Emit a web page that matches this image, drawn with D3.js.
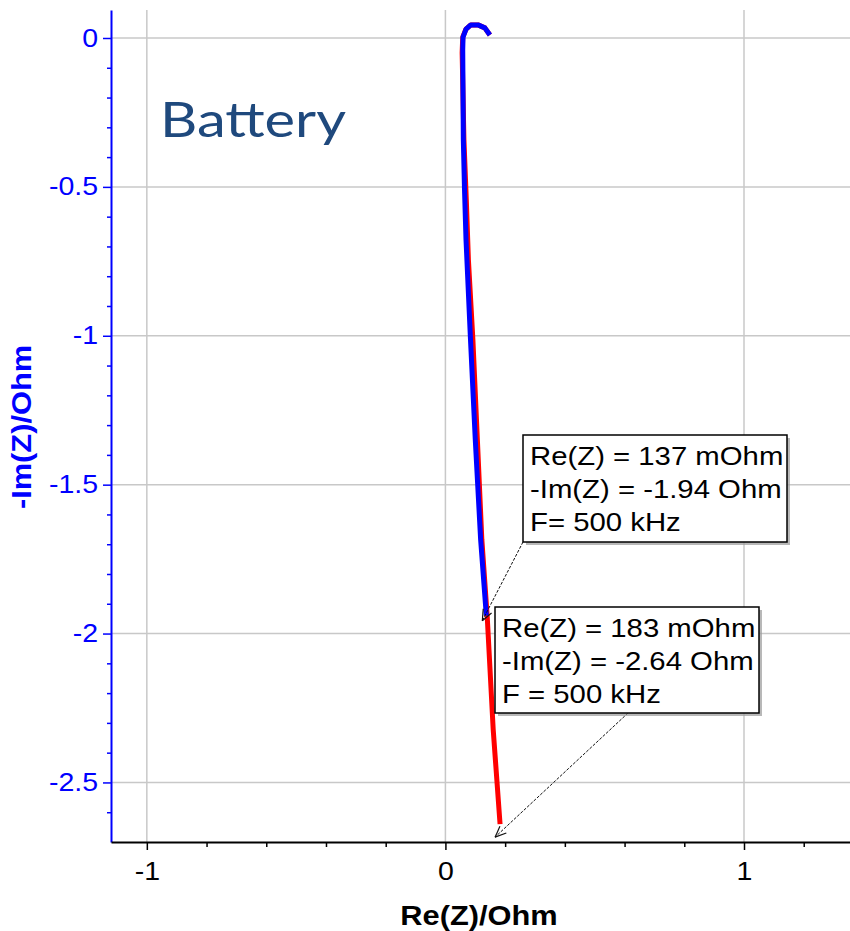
<!DOCTYPE html>
<html>
<head>
<meta charset="utf-8">
<script src="https://cdn.jsdelivr.net/npm/d3@7"></script>
<style>
  body { margin: 0; background: #fff; }
</style>
</head>
<body>
<script>
'use strict';

// ---- data ----
// blue trace (measured up to 500 kHz point)
const blueRe = [0.149, 0.132, 0.109, 0.085, 0.069, 0.059, 0.058, 0.060, 0.064, 0.069, 0.084, 0.100, 0.118, 0.137];
const blueIm = [0.010, 0.034, 0.044, 0.044, 0.030, 0.003, -0.040, -0.342, -0.510, -0.678, -1.013, -1.349, -1.685, -1.94];
// red trace (goes further down)
const redRe = [0.149, 0.132, 0.109, 0.085, 0.069, 0.058, 0.056, 0.062, 0.070, 0.077, 0.092, 0.107, 0.122, 0.140, 0.160, 0.183];
const redIm = [0.010, 0.034, 0.044, 0.044, 0.030, 0.003, -0.050, -0.342, -0.544, -0.745, -1.013, -1.349, -1.685, -1.943, -2.322, -2.64];

const xMajor = [-1, 0, 1];
const yMajor = [0, -0.5, -1, -1.5, -2, -2.5];

const note1 = ["Re(Z) = 137 mOhm", "-Im(Z) = -1.94 Ohm", "F= 500 kHz"];
const note2 = ["Re(Z) = 183 mOhm", "-Im(Z) = -2.64 Ohm", "F = 500 kHz"];
const notePoints = [[0.137, -1.94], [0.183, -2.64]];

const titleText = "Battery";
const xLabel = "Re(Z)/Ohm";
const yLabel = "-Im(Z)/Ohm";

(function() {
  // ---- layout ----
  const W = 850, H = 931;
  const padL = 111, padR = 850, padT = 10, padB = 842;
  const K = 1.14; // the screenshot text is a bit wider than normal
  const FONT = '"Liberation Sans", Arial, sans-serif';

  const svg = d3.select('body').append('svg')
    .attr('width', W)
    .attr('height', H);

  svg.append('rect').attr('width', W).attr('height', H).attr('fill', '#fff');

  const x = d3.scaleLinear().domain([-1.12, 1.355]).range([padL, padR]);
  const y = d3.scaleLinear().domain([0.094, -2.7]).range([padT, padB]);

  // grid lines on the major ticks only
  svg.append('g').selectAll('line')
    .data(xMajor)
    .enter().append('line')
      .attr('x1', d => x(d)).attr('x2', d => x(d))
      .attr('y1', padT).attr('y2', padB)
      .attr('stroke', '#c8c8c8').attr('stroke-width', 1.5);

  svg.append('g').selectAll('line')
    .data(yMajor)
    .enter().append('line')
      .attr('x1', padL).attr('x2', padR)
      .attr('y1', d => y(d)).attr('y2', d => y(d))
      .attr('stroke', '#c8c8c8').attr('stroke-width', 1.5);

  // y axis (blue)
  let yMinor = d3.range(1, 27).map(i => -i / 10).filter(v => Math.abs(v * 2 - Math.round(v * 2)) > 1e-6);
  let gyMinor = svg.append('g')
    .attr('transform', 'translate(' + padL + ',0)')
    .call(d3.axisLeft(y).tickValues(yMinor).tickSize(4).tickSizeOuter(0).tickFormat(''));
  gyMinor.select('.domain').remove();
  gyMinor.selectAll('.tick line').attr('stroke', '#0000ff').attr('stroke-width', 1.5);

  let gy = svg.append('g')
    .attr('transform', 'translate(' + padL + ',0)')
    .call(d3.axisLeft(y).tickValues(yMajor).tickSize(8).tickSizeOuter(0).tickFormat(d => String(d)));
  gy.select('.domain').attr('stroke', '#0000ff').attr('stroke-width', 2);
  gy.selectAll('.tick line').attr('stroke', '#0000ff').attr('stroke-width', 1.5);
  gy.selectAll('.tick text')
    .attr('x', 0)
    .attr('transform', 'translate(-13,0) scale(' + K + ',1)')
    .attr('fill', '#0000ff')
    .style('font-family', FONT)
    .style('font-size', '25px');

  // x axis (black)
  let xMinor = d3.range(-4, 7).map(i => i / 5).filter(v => Math.abs(v - Math.round(v)) > 1e-6);
  let gxMinor = svg.append('g')
    .attr('transform', 'translate(0,' + padB + ')')
    .call(d3.axisBottom(x).tickValues(xMinor).tickSize(5).tickSizeOuter(0).tickFormat(''));
  gxMinor.select('.domain').remove();
  gxMinor.selectAll('.tick line').attr('stroke', '#000').attr('stroke-width', 1.5);

  let gx = svg.append('g')
    .attr('transform', 'translate(0,' + padB + ')')
    .call(d3.axisBottom(x).tickValues(xMajor).tickSize(8).tickSizeOuter(0).tickFormat(d => String(d)));
  gx.select('.domain').attr('stroke', '#000').attr('stroke-width', 2);
  gx.selectAll('.tick line').attr('stroke', '#000').attr('stroke-width', 1.5);
  gx.selectAll('.tick text')
    .attr('y', 0)
    .attr('dy', null)
    .attr('transform', 'translate(0,38) scale(' + K + ',1)')
    .attr('fill', '#000')
    .style('font-family', FONT)
    .style('font-size', '25px');

  // axis titles
  svg.append('text')
    .attr('transform', 'translate(479,925) scale(1.1,1)')
    .attr('text-anchor', 'middle')
    .style('font-family', FONT)
    .style('font-size', '28px')
    .style('font-weight', 'bold')
    .attr('fill', '#000')
    .text(xLabel);

  svg.append('text')
    .attr('transform', 'translate(31,427) rotate(-90) scale(1.1,1)')
    .attr('text-anchor', 'middle')
    .style('font-family', FONT)
    .style('font-size', '28px')
    .style('font-weight', 'bold')
    .attr('fill', '#0000ff')
    .text(yLabel);

  // title inside the plot
  svg.append('text')
    .attr('transform', 'translate(160,137) scale(1.18,1)')
    .style('font-family', 'Lato, "Open Sans", sans-serif')
    .style('font-size', '49px')
    .attr('fill', '#1f497d')
    .text(titleText);

  // traces
  const line = d3.line()
    .x(d => x(d[0]))
    .y(d => y(d[1]));

  svg.append('path')
    .datum(d3.zip(redRe, redIm))
    .attr('fill', 'none')
    .attr('stroke', '#ff0000')
    .attr('stroke-width', 5)
    .attr('stroke-linejoin', 'round')
    .attr('d', line);

  svg.append('path')
    .datum(d3.zip(blueRe, blueIm))
    .attr('fill', 'none')
    .attr('stroke', '#0000ff')
    .attr('stroke-width', 5)
    .attr('stroke-linejoin', 'round')
    .attr('d', line);

  // callouts
  function drawNote(lines, pt, box, from, tipOff) {
    let g = svg.append('g');
    let tx = x(pt[0]) + tipOff[0], ty = y(pt[1]) + tipOff[1];

    // leader line with an open arrow head
    g.append('line')
      .attr('x1', from[0]).attr('y1', from[1])
      .attr('x2', tx).attr('y2', ty)
      .attr('stroke', '#111').attr('stroke-width', 1)
      .attr('stroke-dasharray', '3,1.5');
    let ang = Math.atan2(from[1] - ty, from[0] - tx);
    [0.4, -0.4].forEach(a => {
      g.append('line')
        .attr('x1', tx).attr('y1', ty)
        .attr('x2', tx + 12 * Math.cos(ang + a))
        .attr('y2', ty + 12 * Math.sin(ang + a))
        .attr('stroke', '#111').attr('stroke-width', 1.2);
    });

    // box with drop shadow
    g.append('rect')
      .attr('x', box[0] + 3).attr('y', box[1] + 3)
      .attr('width', box[2]).attr('height', box[3])
      .attr('fill', '#9a9a9a').attr('opacity', 0.7);
    g.append('rect')
      .attr('x', box[0]).attr('y', box[1])
      .attr('width', box[2]).attr('height', box[3])
      .attr('fill', '#fff').attr('stroke', '#000').attr('stroke-width', 1.5);

    lines.forEach((t, i) => {
      g.append('text')
        .attr('transform', 'translate(' + (box[0] + 7) + ',' + (box[1] + 30 + i * 33) + ') scale(1.15,1)')
        .style('font-family', FONT)
        .style('font-size', '25.5px')
        .attr('fill', '#000')
        .text(t);
    });
  }

  drawNote(note1, notePoints[0], [523, 435, 264, 107], [523, 542], [-4, 5]);
  drawNote(note2, notePoints[1], [495, 607, 264, 106], [628, 713], [-5, 13]);
})();
</script>
</body>
</html>
